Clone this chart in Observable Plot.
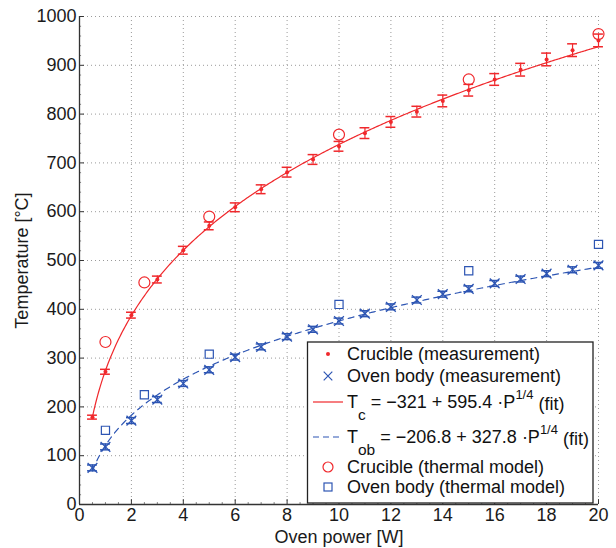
<!DOCTYPE html>
<html>
<head>
<meta charset="utf-8">
<script src="https://cdn.jsdelivr.net/npm/d3@7"></script>
<script src="https://cdn.jsdelivr.net/npm/@observablehq/plot@0.6"></script>
<style>
  html, body { margin: 0; padding: 0; background: #fff; }
  #chart { width: 616px; height: 548px; }
  svg { font-family: "Liberation Sans", Arial, Helvetica, sans-serif; }
</style>
</head>
<body>
<div id="chart"></div>
<script>
// ---- data ----
const power = [0.5, 1, 2, 3, 4, 5, 6, 7, 8, 9, 10, 11, 12, 13, 14, 15, 16, 17, 18, 19, 20];
const crucibleTemp = [179, 272, 388, 461, 521, 571, 609, 646, 681, 707, 734, 761, 784, 805, 827, 849, 871, 891, 912, 931, 951];
const crucibleErr  = [4, 5, 6, 7, 8, 8, 9, 9, 10, 10, 10, 11, 11, 11, 12, 12, 12, 13, 13, 13, 13];
const ovenTemp = [75, 118, 172, 215, 248, 276, 302, 323, 344, 359, 376, 391, 405, 419, 431, 442, 453, 462, 473, 481, 490];
const ovenErr  = [6, 6, 6, 6, 6, 6, 6, 6, 6, 6, 6, 6, 6, 6, 6, 6, 6, 6, 6, 6, 6];

const modelPower = [1, 2.5, 5, 10, 15, 20];
const crucibleModel = [333, 455, 590, 758, 871, 964];
const ovenModel = [152, 225, 308, 410, 479, 533];

// fit coefficients as given in the legend: T = a + b * P^(1/4)
const crucibleFit = {a: -321, b: 595.4};
const ovenFit = {a: -206.8, b: 327.8};
const fitPowerRange = [0.5, 20];

const xTicks = [0, 2, 4, 6, 8, 10, 12, 14, 16, 18, 20];
const yTicks = [0, 100, 200, 300, 400, 500, 600, 700, 800, 900, 1000];

// ---- derived tables ----
const crucible = power.map((p, i) => ({P: p, T: crucibleTemp[i], e: crucibleErr[i]}));
const oven = power.map((p, i) => ({P: p, T: ovenTemp[i], e: ovenErr[i]}));
const cModel = modelPower.map((p, i) => ({P: p, T: crucibleModel[i]}));
const oModel = modelPower.map((p, i) => ({P: p, T: ovenModel[i]}));
const fitP = d3.range(fitPowerRange[0], fitPowerRange[1] + 1e-9, 0.05);
const cFit = fitP.map(p => ({P: p, T: crucibleFit.a + crucibleFit.b * Math.pow(p, 0.25)}));
const oFit = fitP.map(p => ({P: p, T: ovenFit.a + ovenFit.b * Math.pow(p, 0.25)}));

const RED = "#f0282c";
const BLUE = "#2d55b3";
const capHalf = 0.19;
const FS = 18;
const xMinor = d3.range(0, 20.001, 0.5).filter(v => !xTicks.includes(v));
const yMinor = d3.range(0, 1000.1, 20).filter(v => !yTicks.includes(v));

const svg = Plot.plot({
  width: 616,
  height: 548,
  marginLeft: 79,
  marginRight: 18,
  marginTop: 16,
  marginBottom: 44,
  style: {fontSize: FS + "px", fontFamily: "'Liberation Sans', Arial, sans-serif", color: "#1a1a1a", background: "#fff"},
  x: {domain: [0, 20]},
  y: {domain: [0, 1000]},
  marks: [
    Plot.gridX(xTicks.slice(1), {stroke: "#9a9a9a", strokeOpacity: 1, strokeDasharray: "1,3"}),
    Plot.gridY(yTicks.slice(1), {stroke: "#9a9a9a", strokeOpacity: 1, strokeDasharray: "1,3"}),
    // axis tick labels and titles
    Plot.axisX({ticks: xTicks, tickFormat: d3.format("d"), tickSize: 0, tickPadding: 4, fontSize: FS, label: "Oven power [W]", labelAnchor: "center", labelOffset: 38, labelArrow: "none"}),
    Plot.axisY({ticks: yTicks, tickFormat: d3.format("d"), tickSize: 0, tickPadding: 3, fontSize: FS, label: "Temperature [°C]", labelAnchor: "center", labelOffset: 64, labelArrow: "none"}),
    // inward ticks
    Plot.ruleX(xTicks, {y1: 0, y2: 10, stroke: "#333"}),
    Plot.ruleY(yTicks, {x1: 0, x2: 0.19, stroke: "#333"}),
    Plot.ruleX(xMinor, {y1: 0, y2: 4, stroke: "#666", strokeWidth: 0.8}),
    Plot.ruleY(yMinor, {x1: 0, x2: 0.08, stroke: "#666", strokeWidth: 0.8}),
    // fits
    Plot.line(cFit, {x: "P", y: "T", stroke: RED, strokeWidth: 1.2}),
    Plot.line(oFit, {x: "P", y: "T", stroke: BLUE, strokeWidth: 1.2, strokeDasharray: "6,5"}),
    // crucible error bars
    Plot.ruleX(crucible, {x: "P", y1: d => d.T - d.e, y2: d => d.T + d.e, stroke: RED, strokeWidth: 1.2}),
    Plot.ruleY(crucible, {y: d => d.T - d.e, x1: d => d.P - capHalf, x2: d => d.P + capHalf, stroke: RED, strokeWidth: 1.5}),
    Plot.ruleY(crucible, {y: d => d.T + d.e, x1: d => d.P - capHalf, x2: d => d.P + capHalf, stroke: RED, strokeWidth: 1.5}),
    Plot.dot(crucible, {x: "P", y: "T", r: 2, fill: RED, stroke: null}),
    // oven error bars
    Plot.ruleX(oven, {x: "P", y1: d => d.T - d.e, y2: d => d.T + d.e, stroke: BLUE, strokeWidth: 1.2}),
    Plot.ruleY(oven, {y: d => d.T - d.e, x1: d => d.P - capHalf, x2: d => d.P + capHalf, stroke: BLUE, strokeWidth: 1.5}),
    Plot.ruleY(oven, {y: d => d.T + d.e, x1: d => d.P - capHalf, x2: d => d.P + capHalf, stroke: BLUE, strokeWidth: 1.5}),
    Plot.dot(oven, {x: "P", y: "T", symbol: "times", r: 4.5, stroke: BLUE, strokeWidth: 1.3}),
    // thermal model
    Plot.dot(cModel, {x: "P", y: "T", symbol: "circle", r: 5.5, stroke: RED, fill: "none", strokeWidth: 1.2}),
    Plot.dot(oModel, {x: "P", y: "T", symbol: "square", r: 4.6, stroke: BLUE, fill: "none", strokeWidth: 1.2}),
    // axis lines
    Plot.ruleX([0], {stroke: "#333", strokeWidth: 1.3}),
    Plot.ruleY([0], {stroke: "#333", strokeWidth: 1.3})
  ]
});
document.getElementById("chart").append(svg);

// ---- legend ----
const lg = d3.select(svg).append("g").attr("font-size", FS).attr("fill", "#111").attr("text-anchor", "start");
lg.append("rect").attr("x", 307.5).attr("y", 342).attr("width", 285.5).attr("height", 161)
  .attr("fill", "#fff").attr("stroke", "#222").attr("stroke-width", 1.3);
const tx = 347, sx = 328;
const rows = [354, 376, 402, 437, 467, 487];
lg.append("circle").attr("cx", sx).attr("cy", rows[0]).attr("r", 2).attr("fill", RED);
lg.append("path").attr("d", d3.symbol(d3.symbolTimes, 50)()).attr("transform", `translate(${sx},${rows[1]})`)
  .attr("stroke", BLUE).attr("stroke-width", 1.2).attr("fill", "none");
lg.append("line").attr("x1", 313).attr("x2", 343).attr("y1", rows[2]).attr("y2", rows[2]).attr("stroke", RED).attr("stroke-width", 1.2);
lg.append("line").attr("x1", 313).attr("x2", 343).attr("y1", rows[3]).attr("y2", rows[3]).attr("stroke", BLUE).attr("stroke-width", 1.2).attr("stroke-dasharray", "6,4");
lg.append("circle").attr("cx", sx).attr("cy", rows[4]).attr("r", 5).attr("fill", "none").attr("stroke", RED).attr("stroke-width", 1.2);
lg.append("rect").attr("x", sx - 4).attr("y", rows[5] - 4).attr("width", 8).attr("height", 8).attr("fill", "none").attr("stroke", BLUE).attr("stroke-width", 1.2);

function plain(y, s) {
  lg.append("text").attr("x", tx).attr("y", y).attr("dy", "0.35em").text(s);
}
plain(rows[0], "Crucible (measurement)");
plain(rows[1], "Oven body (measurement)");
plain(rows[4], "Crucible (thermal model)");
plain(rows[5], "Oven body (thermal model)");

function fitLabel(y, sub, body) {
  const t = lg.append("text").attr("x", tx).attr("y", y).attr("dy", "0.35em");
  t.append("tspan").text("T");
  t.append("tspan").attr("font-size", 15.5).attr("dy", "0.75em").text(sub);
  t.append("tspan").attr("dy", "-0.65em").text(" = " + body + "\u00b7P");
  t.append("tspan").attr("font-size", 13).attr("dy", "-0.7em").text("1/4");
  t.append("tspan").attr("dy", "0.6em").text(" (fit)");
}
fitLabel(rows[2], "c", "\u2212321 + 595.4 ");
fitLabel(rows[3], "ob", "\u2212206.8 + 327.8 ");
</script>
</body>
</html>
